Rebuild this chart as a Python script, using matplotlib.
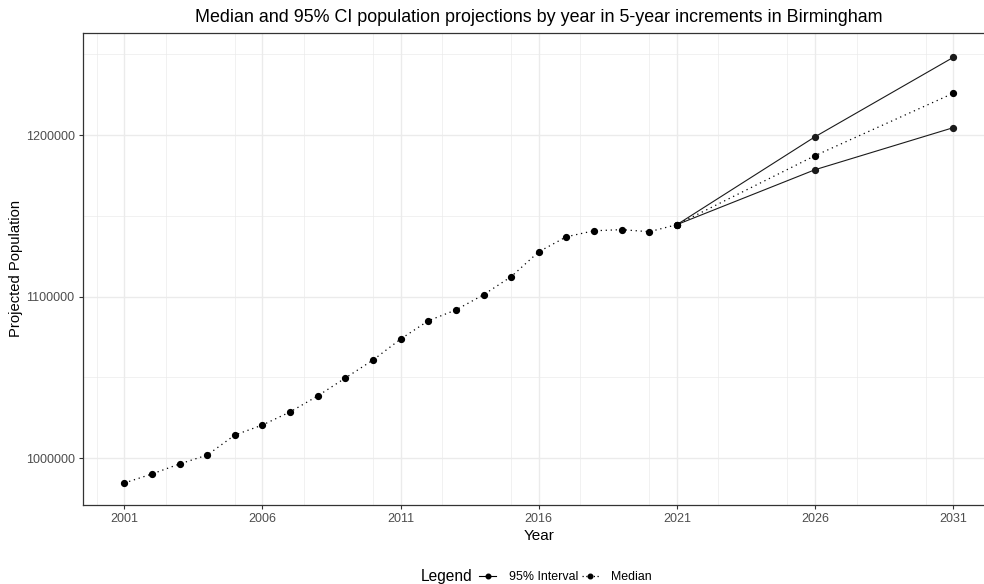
import matplotlib.pyplot as plt
from matplotlib.lines import Line2D
from matplotlib.ticker import MultipleLocator

plt.rcParams['font.family'] = ['Liberation Sans', 'DejaVu Sans']

# median projection, yearly to 2021 then 5-year steps
years = [2001, 2002, 2003, 2004, 2005, 2006, 2007, 2008, 2009, 2010,
         2011, 2012, 2013, 2014, 2015, 2016, 2017, 2018, 2019, 2020,
         2021, 2026, 2031]
median = [984700, 990300, 996500, 1002000, 1014400, 1020600, 1028700,
          1038600, 1049700, 1060800, 1073800, 1085100, 1091800, 1101200,
          1112400, 1127800, 1137100, 1140800, 1141500, 1140200, 1144600,
          1187300, 1225900]

# 95% interval bounds for the projected years
ci_years = [2021, 2026, 2031]
ci_upper = [1144600, 1199000, 1248100]
ci_lower = [1144600, 1178600, 1204600]

xticks = [2001, 2006, 2011, 2016, 2021, 2026, 2031]
yticks = [1000000, 1100000, 1200000]

grid_col = '#EBEBEB'
text_col = '#4D4D4D'

fig = plt.figure(figsize=(9.84, 5.84), dpi=100)
# panel runs slightly past the right edge of the canvas
ax = fig.add_axes([82.9 / 984, 79.5 / 584, 911.8 / 984, 471.2 / 584])

ax.plot(ci_years, ci_upper, color='#1a1a1a', lw=0.8, marker='o', ms=4.2, zorder=3)
ax.plot(ci_years, ci_lower, color='#1a1a1a', lw=0.8, marker='o', ms=4.2, zorder=3)
ax.plot(years, median, color='black', lw=0.9, ls=(0, (1, 3)), marker='o', ms=4.2, zorder=4)

ax.set_xlim(1999.5, 2032.5)
ax.set_ylim(971400, 1263000)
ax.set_xticks(xticks)
ax.set_yticks(yticks)
ax.xaxis.set_minor_locator(MultipleLocator(2.5))
ax.yaxis.set_minor_locator(MultipleLocator(50000))
ax.set_xticklabels([str(x) for x in xticks])
ax.set_yticklabels([str(y) for y in yticks])

ax.grid(which='major', color=grid_col, lw=1.0, zorder=0)
ax.grid(which='minor', color=grid_col, lw=0.5, zorder=0)
ax.set_axisbelow(True)

for s in ax.spines.values():
    s.set_color('#333333')
    s.set_linewidth(0.9)

ax.tick_params(which='major', length=3, width=0.8, color='#333333',
               labelsize=9.0, labelcolor=text_col, pad=3)
ax.tick_params(which='minor', length=0)

ax.set_xlabel('Year', fontsize=11.0, labelpad=3)
ax.set_ylabel('Projected Population', fontsize=10.6, labelpad=1.5)

fig.text(539 / 984, 1 - 17 / 584,
         'Median and 95% CI population projections by year in 5-year increments in Birmingham',
         ha='center', va='center', fontsize=12.9)

# legend along the bottom
handles = [Line2D([], [], color='black', lw=0.8, marker='o', ms=3.3),
           Line2D([], [], color='black', lw=0.9, ls=(0, (1, 2)), marker='o', ms=3.3)]
fig.text(447 / 984, 1 - 577 / 584, 'Legend', ha='center', va='center', fontsize=11.2)
fig.legend(handles, ['95% Interval', 'Median'], loc='center left',
           bbox_to_anchor=(479 / 984, 1 - 577 / 584), ncol=2, frameon=False,
           fontsize=8.9, handlelength=1.4, handletextpad=1.0, columnspacing=0.3,
           borderpad=0, borderaxespad=0)

fig.savefig('out.png', dpi=100)
